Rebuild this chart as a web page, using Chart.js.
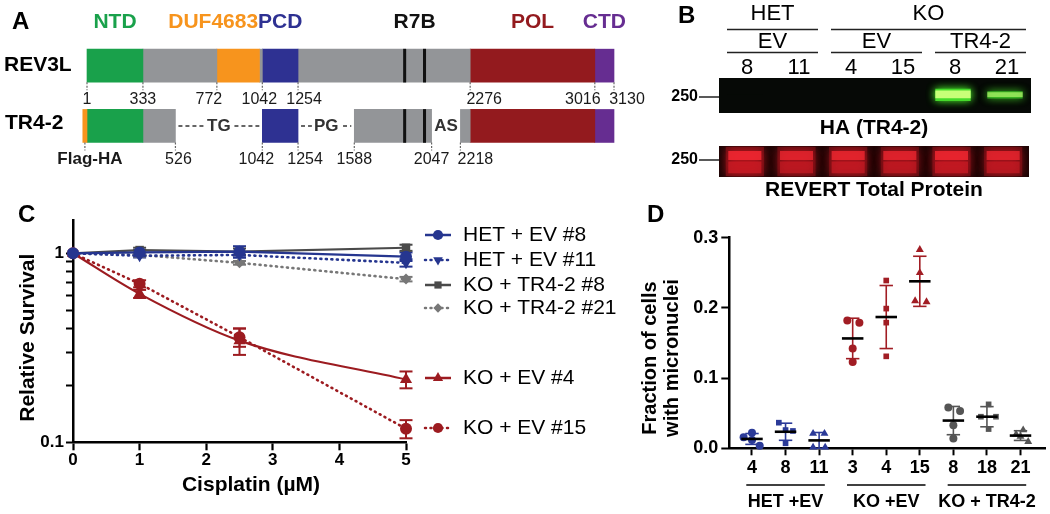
<!DOCTYPE html>
<html>
<head>
<meta charset="utf-8">
<title>REV3L / TR4-2</title>
<script src="https://cdn.jsdelivr.net/npm/chart.js@4.4.1/dist/chart.umd.min.js"></script>
<style>
  html, body { margin:0; padding:0; background:#fff; }
  #page { position:relative; width:1050px; height:514px; overflow:hidden; }
  canvas { position:absolute; }
</style>
</head>
<body>
<div id="page">
  <canvas id="mapA" width="650" height="175" style="left:0;top:0"></canvas>
  <canvas id="blotHA" width="410" height="122" style="left:640px;top:0"></canvas>
  <canvas id="blotRev" width="410" height="85" style="left:640px;top:115px"></canvas>
  <canvas id="survC" width="650" height="314" style="left:0;top:200px"></canvas>
  <canvas id="mnD" width="410" height="314" style="left:640px;top:200px"></canvas>
</div>
<script>
// ---- Panel A: domain map (residue numbers) ----
const rowNames = ['REV3L', 'TR4-2'];
const domainNames = ['NTD', 'DUF4683', 'PCD', 'R7B', 'POL', 'CTD'];
const rev3lStart = [1, 333, 772, 1025, 1042, 1254, 2276, 3016];
const rev3lEnd   = [333, 772, 1025, 1042, 1254, 2276, 3016, 3130];
const rev3lKind  = ['NTD', 'gap', 'DUF4683', 'gap', 'PCD', 'gap', 'POL', 'CTD'];
const tr42Start = [-24, 1, 333, 1042, 1588, 2218, 2276, 3016];
const tr42End   = [1, 333, 526, 1254, 2047, 2276, 3016, 3130];
const tr42Kind  = ['FLAG', 'NTD', 'gap', 'PCD', 'gap', 'gap', 'POL', 'CTD'];
const r7bStart = [1880, 1998];
const r7bEnd   = [1894, 2012];
const rev3lTicks = [1, 333, 772, 1042, 1254, 2276, 3016, 3130];
const tr42Ticks  = [526, 1042, 1254, 1588, 2047, 2218];
const deletionNames = ['TG', 'PG', 'AS'];
const deletionStart = [526, 1254, 2047];
const deletionEnd   = [1042, 1588, 2218];

// ---- Panel B: western blot ----
const blotLanes = ['8', '11', '4', '15', '8', '21'];
const blotGenotypes = ['HET', 'KO'];
const genotypeLanes = [[0, 1], [2, 5]];
const blotVectors = ['EV', 'EV', 'TR4-2'];
const vectorLanes = [[0, 1], [2, 3], [4, 5]];
const haSignal = [0.02, 0.01, 0.0, 0.0, 1.0, 0.6];
const revertSignal = [1.0, 0.85, 0.9, 0.85, 0.95, 0.85];

// ---- Panel C: survival ----
const doses = [0, 1, 2.5, 5];
const survHet8 = [1, 1.01, 1.02, 0.96];
const survHet11 = [1, 0.97, 0.98, 0.89];
const survTr8 = [1, 1.04, 1.02, 1.07];
const survTr21 = [1, 0.98, 0.89, 0.73];
const survKo4 = [1, 0.61, 0.345, 0.215];
const survKo15 = [1, 0.69, 0.36, 0.118];
const errHet8 = [0, 0.03, 0.07, 0.05];
const errHet11 = [0, 0.02, 0.03, 0.04];
const errTr8 = [0, 0.03, 0.04, 0.04];
const errTr21 = [0, 0.02, 0.02, 0.02];
const errKo4 = [0, 0.03, 0.055, 0.022];
const errKo15 = [0, 0.03, 0.04, 0.013];
const cLabels = ['HET + EV #8', 'HET + EV #11', 'KO + TR4-2 #8', 'KO + TR4-2 #21', 'KO + EV #4', 'KO + EV #15'];
const cTickValues = [0.1, 0.2, 0.3, 0.4, 0.5, 0.6, 0.7, 0.8, 0.9, 1];
const cTickLabels = ['0.1', '', '', '', '', '', '', '', '', '1'];

// ---- Panel D: micronuclei ----
const mnCategories = ['4', '8', '11', '3', '4', '15', '8', '18', '21'];
const mnGroups = ['HET +EV', 'KO +EV', 'KO + TR4-2'];
const mnHet4 = [0.0156, 0.0222, 0.0118, 0.0037];
const mnHet8 = [0.0365, 0.026, 0.0247, 0.0071];
const mnHet11 = [0.021, 0.021, 0.0015, 0.0015];
const mnKo3 = [0.182, 0.179, 0.142, 0.123];
const mnKo4 = [0.239, 0.199, 0.179, 0.131];
const mnKo15 = [0.283, 0.250, 0.210, 0.2085];
const mnTr8 = [0.058, 0.053, 0.033, 0.014];
const mnTr18 = [0.0626, 0.045, 0.045, 0.0274];
const mnTr21 = [0.026, 0.020, 0.017, 0.0094];

// styles
const FONT = "Arial, 'Liberation Sans', Helvetica, sans-serif";
const BLUE = '#26368f', RED = '#9c1b20', GRAYD = '#4a4a4a', GRAYL = '#777777';
const domainColor = { NTD: '#19a14b', DUF4683: '#f7941d', PCD: '#2e3192', R7B: '#111111',
  POL: '#931a1e', CTD: '#662d91', gap: '#939598', FLAG: '#f7941d' };
const headerNudge = { DUF4683: -25 };
const rev3lNudge = [0, 0, -8, -3, 6, 14, -12, 13];
const tr42Nudge = [3, -6, 7, 0, 0, 15];
const mnJitter = [[-0.25, 0, 0, 0.23], [-0.2, 0, 0.22, 0], [-0.18, 0.16, -0.18, 0.18],
  [-0.16, 0.2, 0, 0], [0, 0, 0, 0], [0, 0, -0.14, 0.2],
  [-0.15, 0.2, 0, 0], [0.05, -0.18, 0.27, 0.05], [0.08, -0.13, 0, 0.23]];
const mnColors = ['#2b3a98', '#a11d24', '#555555'];
const mnShapes = ['circle', 'rect', 'triangle'];
const cLegendY = [35, 60, 85, 108, 178, 228];

Chart.defaults.font.family = FONT;
Chart.defaults.color = '#000';

function txt(ctx, s, x, y, size, o = {}) {
  ctx.save();
  ctx.font = (o.bold ? 'bold ' : '') + size + 'px ' + FONT;
  ctx.fillStyle = o.color || '#000';
  ctx.textAlign = o.align || 'center';
  ctx.textBaseline = 'middle';
  if (o.rotate) { ctx.translate(x, y); ctx.rotate(o.rotate); ctx.fillText(s, 0, 0); }
  else ctx.fillText(s, x, y);
  ctx.restore();
}
function seg(ctx, x1, y1, x2, y2, color, width, dash) {
  ctx.save();
  ctx.strokeStyle = color; ctx.lineWidth = width; ctx.setLineDash(dash || []);
  ctx.beginPath(); ctx.moveTo(x1, y1); ctx.lineTo(x2, y2); ctx.stroke();
  ctx.restore();
}
const base = extra => Object.assign({
  responsive: false, animation: false, events: [],
  plugins: { legend: { display: false }, tooltip: { enabled: false } }
}, extra);

// ================= Panel A =================
function segmentSets(row, starts, ends, kinds) {
  return starts.map((s, i) => ({ data: [{ x: [s, ends[i]], y: row }], backgroundColor: domainColor[kinds[i]] }));
}
const aSets = [
  ...segmentSets('REV3L', r7bStart, r7bEnd, ['R7B', 'R7B']),
  ...segmentSets('TR4-2', r7bStart, r7bEnd, ['R7B', 'R7B']),
  ...segmentSets('REV3L', rev3lStart, rev3lEnd, rev3lKind),
  ...segmentSets('TR4-2', tr42Start, tr42End, tr42Kind)
];

const mapLabels = {
  id: 'mapLabels',
  afterDraw(chart) {
    const { ctx, scales: { x, y } } = chart;
    const half = 16.5;
    txt(ctx, 'A', 12, 22, 24, { bold: true, align: 'left' });
    domainNames.forEach(name => {
      let cx;
      if (name === 'R7B') cx = (x.getPixelForValue(r7bStart[0]) + x.getPixelForValue(r7bEnd[1])) / 2;
      else {
        const i = rev3lKind.indexOf(name);
        cx = (x.getPixelForValue(rev3lStart[i]) + x.getPixelForValue(rev3lEnd[i])) / 2;
      }
      txt(ctx, name, cx + (headerNudge[name] || 0), 22, 21, { bold: true, color: domainColor[name] });
    });
    txt(ctx, rowNames[0], 4, y.getPixelForValue(0), 21, { bold: true, align: 'left' });
    txt(ctx, rowNames[1], 5, y.getPixelForValue(1) - 3, 21, { bold: true, align: 'left' });

    const ticks = (row, vals, nudge) => {
      const yb = y.getPixelForValue(row) + half;
      vals.forEach((v, i) => {
        const px = x.getPixelForValue(v);
        seg(ctx, px, yb, px, yb + 8, '#666', 1.2, [2, 1.5]);
        txt(ctx, String(v), px + nudge[i], yb + 17, 16, { color: '#1a1a1a' });
      });
    };
    ticks(0, rev3lTicks, rev3lNudge);
    ticks(1, tr42Ticks, tr42Nudge);
    // Flag-HA tag
    const yb = y.getPixelForValue(1) + half;
    const fx = (x.getPixelForValue(tr42Start[0]) + x.getPixelForValue(tr42End[0])) / 2;
    seg(ctx, fx, yb, fx, yb + 8, '#666', 1.2, [2, 1.5]);
    txt(ctx, 'Flag-HA', fx + 5, yb + 17, 17, { bold: true, color: '#1a1a1a' });
    // deleted regions
    const yc = y.getPixelForValue(1);
    deletionNames.forEach((n, i) => {
      const x1 = x.getPixelForValue(deletionStart[i]) + 3, x2 = x.getPixelForValue(deletionEnd[i]) - 3;
      seg(ctx, x1, yc, x2, yc, '#333', 1.5, [4, 3]);
      ctx.save();
      ctx.font = 'bold 17px ' + FONT;
      const w = ctx.measureText(n).width;
      ctx.fillStyle = '#fff';
      ctx.fillRect((x1 + x2) / 2 - w / 2 - 2, yc - 9, w + 4, 18);
      ctx.restore();
      txt(ctx, n, (x1 + x2) / 2, yc, 17, { bold: true, color: '#333' });
    });
  }
};

new Chart('mapA', {
  type: 'bar',
  data: { labels: rowNames, datasets: aSets },
  options: base({
    indexAxis: 'y',
    layout: { padding: { top: 35.5, bottom: 18.9, left: 0, right: 0 } },
    datasets: { bar: { grouped: false, barThickness: 33, borderWidth: 0, clip: false } },
    scales: {
      x: { type: 'linear', display: false, min: -515.6, max: 3343.7 },
      y: { display: false }
    }
  }),
  plugins: [mapLabels]
});

// ================= Panel B =================
function blotGlow(bg, glow, blur) {
  return {
    id: 'blotGlow',
    beforeDatasetsDraw(chart) {
      const a = chart.chartArea, ctx = chart.ctx;
      ctx.fillStyle = bg;
      ctx.fillRect(a.left, a.top, a.width, a.height);
      ctx.save();
      ctx.shadowColor = glow;
      ctx.shadowBlur = blur;
    },
    afterDatasetsDraw(chart) { chart.ctx.restore(); }
  };
}
function spanOf(x, lanes) {
  const w = x.width / blotLanes.length;
  return [x.getPixelForValue(lanes[0]) - w / 2 + 8, x.getPixelForValue(lanes[1]) + w / 2 - 5];
}
const blotHeader = {
  id: 'blotHeader',
  afterDraw(chart) {
    const { ctx, scales: { x } } = chart;
    txt(ctx, 'B', 38, 16, 24, { bold: true, align: 'left' });
    blotGenotypes.forEach((g, i) => {
      const [l, r] = spanOf(x, genotypeLanes[i]);
      txt(ctx, g, (l + r) / 2, 14, 22);
      seg(ctx, l, 29.5, r, 29.5, '#222', 1.5);
    });
    blotVectors.forEach((v, i) => {
      const [l, r] = spanOf(x, vectorLanes[i]);
      txt(ctx, v, (l + r) / 2, 42, 22);
      seg(ctx, l, 52.5, r, 52.5, '#222', 1.5);
    });
    blotLanes.forEach((n, i) => txt(ctx, n, x.getPixelForValue(i) + 2, 68, 22));
    txt(ctx, '250', 58, 97, 16, { bold: true, align: 'right' });
    seg(ctx, 59, 97, chart.chartArea.left, 97, '#222', 1.5);
  }
};
new Chart('blotHA', {
  type: 'bar',
  data: {
    labels: blotLanes,
    datasets: [
      { data: haSignal.map(s => [0.52 - 0.1 * s, 0.52 + 0.12 * s]),
        backgroundColor: haSignal.map(s => 'rgba(200,255,120,' + Math.min(1, s) + ')') },
      { data: haSignal.map(s => [0.52 - 0.18 * s, 0.52 + 0.17 * s]),
        backgroundColor: haSignal.map(s => 'rgba(70,215,45,' + Math.min(1, s * 1.1) + ')') }
    ]
  },
  options: base({
    layout: { padding: { left: 79, right: 19, top: 78, bottom: 9 } },
    datasets: { bar: { grouped: false, barPercentage: 0.68, categoryPercentage: 1, borderWidth: 0 } },
    scales: { x: { display: false }, y: { display: false, min: 0, max: 1 } }
  }),
  plugins: [blotGlow('#060906', 'rgba(70,230,40,0.85)', 9), blotHeader]
});

const revLabels = {
  id: 'revLabels',
  afterDraw(chart) {
    const { ctx, chartArea: a } = chart;
    const cx = (a.left + a.right) / 2;
    txt(ctx, 'HA (TR4-2)', cx, 13, 21, { bold: true });
    txt(ctx, 'REVERT Total Protein', cx, 75, 21, { bold: true });
    txt(ctx, '250', 58, 45, 16, { bold: true, align: 'right' });
    seg(ctx, 59, 45, a.left, 45, '#222', 1.5);
  }
};
new Chart('blotRev', {
  type: 'bar',
  data: {
    labels: blotLanes,
    datasets: [
      { data: revertSignal.map(() => [0.55, 0.84]),
        backgroundColor: revertSignal.map(s => 'rgba(245,40,50,' + (0.85 * s) + ')') },
      { data: revertSignal.map(() => [0.12, 0.5]),
        backgroundColor: revertSignal.map(s => 'rgba(205,28,38,' + (0.75 * s) + ')') },
      { data: revertSignal.map(() => [0.03, 0.97]),
        backgroundColor: revertSignal.map(s => 'rgba(150,20,28,' + (0.55 * s) + ')'),
        barPercentage: 0.74 }
    ]
  },
  options: base({
    layout: { padding: { left: 79, right: 21, top: 31, bottom: 23 } },
    datasets: { bar: { grouped: false, barPercentage: 0.64, categoryPercentage: 1, borderWidth: 0 } },
    scales: { x: { display: false }, y: { display: false, min: 0, max: 1 } }
  }),
  plugins: [blotGlow('#1a0606', 'rgba(210,25,35,0.8)', 10), revLabels]
});

// ================= Panel C =================
const cValues = [survHet8, survHet11, survTr8, survTr21, survKo4, survKo15];
const cErrors = [errHet8, errHet11, errTr8, errTr21, errKo4, errKo15];
const cStyle = [
  { color: BLUE, dash: [], shape: 'circle', r: 6, rot: 0 },
  { color: BLUE, dash: [1, 4.5], shape: 'triangle', r: 6.5, rot: 180 },
  { color: GRAYD, dash: [], shape: 'rect', r: 6, rot: 0 },
  { color: GRAYL, dash: [1, 4.5], shape: 'rectRot', r: 5.5, rot: 0 },
  { color: RED, dash: [], shape: 'triangle', r: 7, rot: 0 },
  { color: RED, dash: [1, 4.5], shape: 'circle', r: 6, rot: 0 }
];
const cSets = cValues.map((vals, i) => {
  const st = cStyle[i];
  return {
    label: cLabels[i],
    data: vals.map((v, k) => ({ x: doses[k], y: v })),
    borderColor: st.color, backgroundColor: st.color, pointBackgroundColor: st.color,
    pointBorderWidth: 0, borderWidth: st.dash.length ? 2.6 : 2.2,
    borderDash: st.dash, borderCapStyle: st.dash.length ? 'round' : 'butt',
    pointStyle: st.shape, pointRadius: st.r, pointRotation: st.rot,
    cubicInterpolationMode: i === 4 ? 'monotone' : 'default', clip: false
  };
});

const cErrorBars = {
  id: 'cErrorBars',
  beforeDatasetsDraw(chart) {
    const { ctx, scales: { y } } = chart;
    cErrors.forEach((errs, i) => {
      const meta = chart.getDatasetMeta(i);
      errs.forEach((e, k) => {
        if (!e) return;
        const p = meta.data[k], v = cValues[i][k];
        const y1 = y.getPixelForValue(v + e), y2 = y.getPixelForValue(v - e);
        const col = cStyle[i].color;
        seg(ctx, p.x, y1, p.x, y2, col, 2);
        seg(ctx, p.x - 6.5, y1, p.x + 6.5, y1, col, 2);
        seg(ctx, p.x - 6.5, y2, p.x + 6.5, y2, col, 2);
      });
    });
  }
};
const cLegend = {
  id: 'cLegend',
  afterDraw(chart) {
    const ctx = chart.ctx;
    txt(ctx, 'C', 18, 15, 24, { bold: true, align: 'left' });
    txt(ctx, 'Relative Survival', 28, 137.7, 21, { bold: true, rotate: -Math.PI / 2 });
    txt(ctx, 'Cisplatin (µM)', 251, 285, 21, { bold: true });
    cLabels.forEach((lab, i) => {
      const st = cStyle[i], yy = cLegendY[i];
      ctx.save();
      ctx.strokeStyle = st.color; ctx.lineWidth = 2.5;
      ctx.setLineDash(st.dash); ctx.lineCap = st.dash.length ? 'round' : 'butt';
      ctx.beginPath(); ctx.moveTo(425, yy); ctx.lineTo(451, yy); ctx.stroke();
      ctx.restore();
      ctx.save();
      ctx.fillStyle = st.color; ctx.strokeStyle = st.color;
      Chart.helpers.drawPoint(ctx, { pointStyle: st.shape, radius: st.r * 0.85, rotation: st.rot, borderWidth: 0 }, 438, yy);
      ctx.restore();
      txt(ctx, lab, 463, yy, 21, { align: 'left' });
    });
  }
};

new Chart('survC', {
  type: 'line',
  data: { datasets: cSets },
  options: base({
    layout: { padding: { top: 20, right: 244, left: 0, bottom: 0 } },
    scales: {
      x: {
        type: 'linear', min: 0, max: 5,
        ticks: { stepSize: 1, font: { size: 17, weight: 'bold' }, color: '#000', padding: 0 },
        grid: { drawOnChartArea: false, tickLength: 8, tickColor: '#000', tickWidth: 2.2 },
        border: { color: '#000', width: 2.5 },
        afterFit: s => { s.height = 71.7; }
      },
      y: {
        type: 'logarithmic', min: 0.1, max: 1.5,
        afterBuildTicks: s => { s.ticks = cTickValues.map(v => ({ value: v })); },
        ticks: { autoSkip: false, callback: (v, i) => cTickLabels[i], font: { size: 17, weight: 'bold' }, color: '#000', padding: 2 },
        grid: { drawOnChartArea: false, tickLength: 7, tickColor: '#000', tickWidth: 2 },
        border: { color: '#000', width: 2.5 },
        afterFit: s => { s.width = 73; }
      }
    }
  }),
  plugins: [cErrorBars, cLegend]
});

// ================= Panel D =================
const mnValues = [mnHet4, mnHet8, mnHet11, mnKo3, mnKo4, mnKo15, mnTr8, mnTr18, mnTr21];
const mean = a => a.reduce((s, v) => s + v, 0) / a.length;
const sd = a => { const m = mean(a); return Math.sqrt(a.reduce((s, v) => s + (v - m) * (v - m), 0) / (a.length - 1)); };

const dSets = mnValues.map((vals, i) => ({
  data: vals.map((v, k) => ({ x: i + mnJitter[i][k], y: v })),
  backgroundColor: mnColors[Math.floor(i / 3)], borderWidth: 0,
  pointStyle: mnShapes[i % 3], pointRadius: mnShapes[i % 3] === 'triangle' ? 4.6 : 4, clip: false
}));

const dStats = {
  id: 'dStats',
  beforeDatasetsDraw(chart) {
    const { ctx, scales: { x, y } } = chart;
    mnValues.forEach((vals, i) => {
      const m = mean(vals), s = sd(vals), col = mnColors[Math.floor(i / 3)];
      const cx = x.getPixelForValue(i), cap = x.getPixelForValue(i + 0.2) - cx;
      const y1 = y.getPixelForValue(m + s), y2 = y.getPixelForValue(Math.max(0, m - s));
      seg(ctx, cx, y1, cx, y2, col, 1.6);
      seg(ctx, cx - cap, y1, cx + cap, y1, col, 1.6);
      seg(ctx, cx - cap, y2, cx + cap, y2, col, 1.6);
    });
  },
  afterDatasetsDraw(chart) {
    const { ctx, scales: { x, y } } = chart;
    mnValues.forEach((vals, i) => {
      const cx = x.getPixelForValue(i), w = x.getPixelForValue(i + 0.32) - cx, ym = y.getPixelForValue(mean(vals));
      seg(ctx, cx - w, ym, cx + w, ym, '#000', 2.6);
    });
  },
  afterDraw(chart) {
    const { ctx, scales: { x } } = chart;
    txt(ctx, 'D', 7, 15, 24, { bold: true, align: 'left' });
    txt(ctx, 'Fraction of cells', 10, 158, 20, { bold: true, rotate: -Math.PI / 2 });
    txt(ctx, 'with micronuclei', 32, 158, 20, { bold: true, rotate: -Math.PI / 2 });
    mnGroups.forEach((g, j) => {
      const l = x.getPixelForValue(j * 3 - 0.17), r = x.getPixelForValue(j * 3 + 2 + 0.17);
      seg(ctx, l, 285, r, 285, '#000', 1.5);
      txt(ctx, g, (l + r) / 2, 302, 18, { bold: true });
    });
  }
};

new Chart('mnD', {
  type: 'scatter',
  data: { datasets: dSets },
  options: base({
    layout: { padding: { top: 37.7, right: 5, left: 0, bottom: 0 } },
    scales: {
      x: {
        type: 'linear', min: -0.676, max: 8.73,
        afterBuildTicks: s => { s.ticks = mnCategories.map((c, i) => ({ value: i })); },
        ticks: { autoSkip: false, maxRotation: 0, callback: v => mnCategories[v], font: { size: 18, weight: 'bold' }, color: '#000', padding: 2 },
        grid: { drawOnChartArea: false, tickLength: 7, tickColor: '#000', tickWidth: 2 },
        border: { color: '#000', width: 2.5 },
        afterFit: s => { s.height = 65.7; }
      },
      y: {
        min: 0, max: 0.3,
        ticks: { stepSize: 0.1, callback: v => v.toFixed(1), font: { size: 18, weight: 'bold' }, color: '#000', padding: 3 },
        grid: { drawOnChartArea: false, tickLength: 8, tickColor: '#000', tickWidth: 2 },
        border: { color: '#000', width: 2.5 },
        afterFit: s => { s.width = 89.3; }
      }
    }
  }),
  plugins: [dStats]
});
</script>
</body>
</html>
